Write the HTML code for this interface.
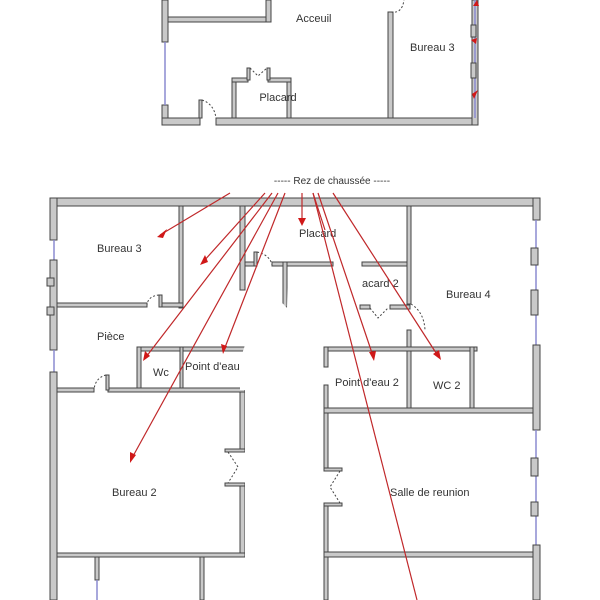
<!DOCTYPE html>
<html><head><meta charset="utf-8"><style>
html,body{margin:0;padding:0;background:#fff;}
svg{display:block}
text{font-family:"Liberation Sans",sans-serif;font-size:11px;fill:#333;}
.w{fill:#c9c9c9;stroke:#444;stroke-width:1}
.win{stroke:#8a8ad0;stroke-width:1.5}
.d{fill:none;stroke:#444;stroke-width:1;stroke-dasharray:2,2}
.a{stroke:#c0282a;stroke-width:1.2;fill:none}
.h{fill:#d01818}
</style></head><body>
<svg width="600" height="600" viewBox="0 0 600 600" xmlns="http://www.w3.org/2000/svg">
<rect class="w" x="162" y="0" width="6" height="42"/>
<rect class="w" x="162" y="105" width="6" height="20"/>
<line class="win" x1="165" y1="42" x2="165" y2="105"/>
<rect class="w" x="162" y="118" width="38" height="7"/>
<rect class="w" x="216" y="118" width="262" height="7"/>
<rect class="w" x="472" y="0" width="6" height="125"/>
<line class="win" x1="475" y1="0" x2="475" y2="118"/>
<rect class="w" x="471" y="25" width="5" height="12"/>
<rect class="w" x="471" y="63" width="5" height="15"/>
<rect class="w" x="168" y="17" width="102" height="5"/>
<rect class="w" x="266" y="0" width="5" height="22"/>
<rect class="w" x="388" y="12" width="5" height="106"/>
<path class="d" d="M391 12 Q402 14 404 0"/>
<rect class="w" x="199" y="100" width="3" height="18"/>
<path class="d" d="M202 100 Q214 104 216 118"/>
<rect class="w" x="232" y="78" width="4" height="40"/>
<rect class="w" x="287" y="78" width="4" height="40"/>
<rect class="w" x="232" y="78" width="16" height="4"/>
<rect class="w" x="268" y="78" width="23" height="4"/>
<rect class="w" x="247" y="68" width="3" height="12"/>
<rect class="w" x="267" y="68" width="3" height="12"/>
<path class="d" d="M250 68 L258 76 L267 68"/>
<text x="296" y="22">Acceuil</text>
<text x="410" y="51">Bureau 3</text>
<text x="278" y="101" text-anchor="middle">Placard</text>
<path class="h" d="M477 0 l-4 6 l6 0z"/>
<path class="h" d="M477 38 l-6 2 l5 4z"/>
<path class="h" d="M478 90 l-6 4 l2 5z"/>
<text x="332" y="184" text-anchor="middle" style="font-size:10px">-----  Rez de chaussée  -----</text>

<rect class="w" x="50" y="198" width="490" height="8"/>
<rect class="w" x="50" y="198" width="7" height="42"/>
<line class="win" x1="54" y1="240" x2="54" y2="270"/>
<rect class="w" x="50" y="260" width="7" height="90"/>
<rect class="w" x="47" y="278" width="7" height="8"/>
<rect class="w" x="47" y="307" width="7" height="8"/>
<line class="win" x1="54" y1="350" x2="54" y2="372"/>
<rect class="w" x="50" y="372" width="7" height="228"/>
<rect class="w" x="533" y="198" width="7" height="22"/>
<line class="win" x1="536" y1="220" x2="536" y2="345"/>
<rect class="w" x="531" y="248" width="7" height="17"/>
<rect class="w" x="531" y="290" width="7" height="25"/>
<rect class="w" x="533" y="345" width="7" height="85"/>
<line class="win" x1="536" y1="430" x2="536" y2="545"/>
<rect class="w" x="531" y="458" width="7" height="18"/>
<rect class="w" x="531" y="502" width="7" height="14"/>
<rect class="w" x="533" y="545" width="7" height="55"/>

<rect class="w" x="179" y="206" width="4" height="102"/>
<rect class="w" x="57" y="303" width="90" height="4"/>
<rect class="w" x="159" y="303" width="24" height="4"/>
<rect class="w" x="159" y="295" width="3" height="12"/>
<path class="d" d="M159 295 Q148 296 147 305"/>
<rect class="w" x="240" y="206" width="5" height="84"/>
<rect class="w" x="137" y="347" width="108" height="4"/>
<rect class="w" x="137" y="347" width="4" height="44"/>
<rect class="w" x="180" y="347" width="3" height="44"/>
<rect class="w" x="57" y="388" width="37" height="4"/>
<rect class="w" x="108" y="388" width="137" height="4"/>
<rect class="w" x="106" y="375" width="3" height="15"/>
<path class="d" d="M106 375 Q95 378 94 390"/>
<rect class="w" x="240" y="392" width="5" height="58"/>
<rect class="w" x="240" y="485" width="5" height="72"/>
<rect class="w" x="225" y="449" width="20" height="3"/>
<rect class="w" x="225" y="483" width="20" height="3"/>
<path class="d" d="M228 452 L238 467 L228 483"/>
<rect class="w" x="57" y="553" width="188" height="4"/>
<rect class="w" x="95" y="557" width="4" height="23"/>
<line class="win" x1="97" y1="580" x2="97" y2="600"/>
<rect class="w" x="200" y="557" width="4" height="43"/>

<rect class="w" x="245" y="262" width="12" height="4"/>
<rect class="w" x="254" y="252" width="3" height="14"/>
<path class="d" d="M257 252 Q270 255 272 265"/>
<rect class="w" x="272" y="262" width="61" height="4"/>
<rect class="w" x="283" y="262" width="4" height="45"/>
<rect class="w" x="362" y="262" width="45" height="4"/>
<rect class="w" x="407" y="206" width="4" height="98"/>
<rect class="w" x="407" y="330" width="4" height="80"/>
<path class="d" d="M411 304 Q424 312 425 330"/>
<rect class="w" x="360" y="305" width="10" height="4"/>
<rect class="w" x="390" y="305" width="20" height="4"/>
<path class="d" d="M370 308 L378 318 L388 308"/>
<rect class="w" x="324" y="347" width="153" height="4"/>
<rect class="w" x="324" y="347" width="4" height="20"/>
<rect class="w" x="324" y="385" width="4" height="85"/>
<rect class="w" x="324" y="505" width="4" height="95"/>
<rect class="w" x="324" y="468" width="18" height="3"/>
<rect class="w" x="324" y="503" width="18" height="3"/>
<path class="d" d="M340 471 L330 487 L340 503"/>
<rect class="w" x="470" y="347" width="4" height="64"/>
<rect class="w" x="324" y="408" width="209" height="5"/>
<rect class="w" x="324" y="552" width="209" height="5"/>

<polygon fill="#fff" points="245,292 268,288 287,308 288,267 334,267 350,285 348,345 322,345 322,600 245,600 245,390 240,390 240,360 245,345"/>

<text x="97" y="252">Bureau 3</text>
<text x="299" y="237">Placard</text>
<text x="362" y="287">acard 2</text>
<text x="446" y="298">Bureau 4</text>
<text x="97" y="340">Pièce</text>
<text x="153" y="376">Wc</text>
<text x="185" y="370">Point d'eau</text>
<text x="335" y="386">Point d'eau 2</text>
<text x="433" y="389">WC 2</text>
<text x="112" y="496">Bureau 2</text>
<text x="390" y="496">Salle de reunion</text>

<g class="a">
<line x1="230" y1="193" x2="160" y2="235"/>
<line x1="265" y1="193" x2="203" y2="262"/>
<line x1="272" y1="193" x2="146" y2="357"/>
<line x1="278" y1="193" x2="132" y2="458"/>
<line x1="285" y1="193" x2="224" y2="350"/>
<line x1="302" y1="193" x2="302" y2="220"/>
<line x1="313" y1="193" x2="325" y2="230"/>
<line x1="318" y1="193" x2="373" y2="356"/>
<line x1="333" y1="193" x2="438" y2="356"/>
<line x1="313" y1="193" x2="417" y2="600"/>
</g>
<g class="h">
<polygon points="157,237 167,229 163,238"/>
<polygon points="200,265 205,255 208,262"/>
<polygon points="143,361 145,351 150,356"/>
<polygon points="130,463 130,452 136,455"/>
<polygon points="223,354 221,344 227,346"/>
<polygon points="302,226 298,218 306,218"/>
<polygon points="374,361 369,352 376,351"/>
<polygon points="441,360 433,354 439,350"/>
</g>
</svg>
</body></html>
